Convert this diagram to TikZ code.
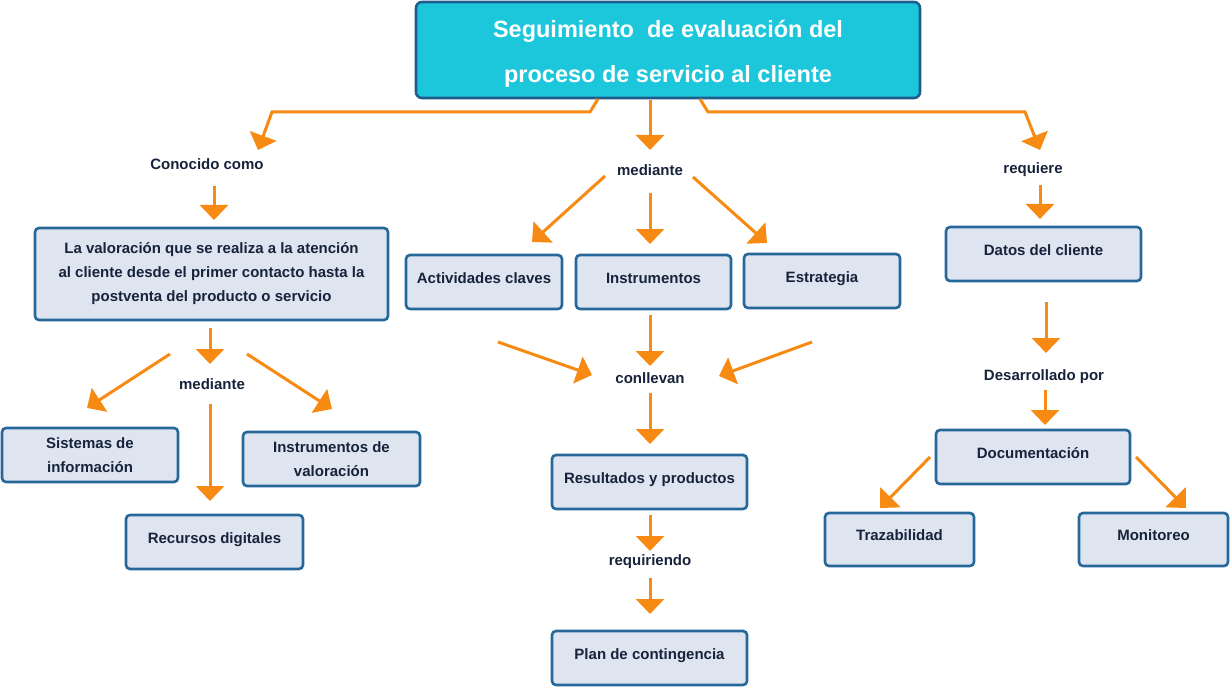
\documentclass[tikz,border=0pt]{standalone}
\usepackage{fontspec}
\setmainfont{Liberation Sans}
\usetikzlibrary{arrows.meta}
\definecolor{arrorange}{HTML}{F68A12}
\definecolor{boxline}{HTML}{26689A}
\definecolor{boxfill}{HTML}{DEE5F1}
\definecolor{titlefill}{HTML}{1DC7DB}
\definecolor{titleline}{HTML}{1F5E8C}
\definecolor{darktext}{HTML}{17233B}
\begin{document}
\begin{tikzpicture}[x=1pt,y=-1pt,
  arr/.style={-{Triangle[width=28pt,length=15pt]},line width=3pt,draw=arrorange},
  box/.style={draw=boxline,fill=boxfill,line width=2.6pt,rounded corners=4pt,text=darktext,font=\fontsize{15}{24}\selectfont\bfseries,align=center,inner sep=0pt},
  one line/.style={text height=11pt,text depth=9pt},
  title box/.style={draw=titleline,fill=titlefill,line width=2.6pt,rounded corners=6pt,text=white,font=\fontsize{23.5}{45}\selectfont\bfseries,align=center,inner sep=0pt,minimum width=504pt,minimum height=96pt},
  word/.style={text=darktext,font=\fontsize{15}{16}\selectfont\bfseries,inner sep=0pt}]
  \useasboundingbox (0,0) rectangle (1231,687);

  % boxes
  \node[title box] (title) at (668,50) {\rule{0pt}{25pt}Seguimiento\ \ de evaluación del\\proceso de servicio al cliente};
  \node[box,minimum width=353pt,minimum height=92pt] (valor) at (211.5,274) {La valoración que se realiza a la atención\\al cliente desde el primer contacto hasta la\\postventa del producto o servicio};
  \node[box,minimum width=176pt,minimum height=54pt] (sist) at (90,455) {Sistemas de\\información};
  \node[box,minimum width=177pt,minimum height=54pt] (instval) at (331.5,459) {Instrumentos de\\valoración};
  \node[box,one line,minimum width=177pt,minimum height=54pt] (recdig) at (214.5,542) {Recursos digitales};
  \node[box,one line,minimum width=156pt,minimum height=54pt] (activ) at (484,282) {Actividades claves};
  \node[box,one line,minimum width=155pt,minimum height=54pt] (instr) at (653.5,282) {Instrumentos};
  \node[box,one line,minimum width=156pt,minimum height=54pt] (estr) at (822,281) {Estrategia};
  \node[box,one line,minimum width=195pt,minimum height=54pt] (result) at (649.5,482) {Resultados y productos};
  \node[box,one line,minimum width=195pt,minimum height=54pt] (plan) at (649.5,658) {Plan de contingencia};
  \node[box,one line,minimum width=195pt,minimum height=54pt] (datos) at (1043.5,254) {Datos del cliente};
  \node[box,one line,minimum width=194pt,minimum height=54pt] (docum) at (1033,457) {Documentación};
  \node[box,one line,minimum width=149pt,minimum height=53pt] (traz) at (899.5,539.5) {Trazabilidad};
  \node[box,one line,minimum width=149pt,minimum height=53pt] (monit) at (1153.5,539.5) {Monitoreo};

  % linking words
  \node[word] (conocido) at (207,164) {Conocido como};
  \node[word] (medtop) at (650,170) {mediante};
  \node[word] (requiere) at (1033,170) {requiere};
  \node[word] (medleft) at (212,384) {mediante};
  \node[word] (conllevan) at (650,378) {conllevan};
  \node[word] (requiriendo) at (650,562) {requiriendo};
  \node[word] (desarr) at (1044,377) {Desarrollado por};

  % free arrow ends
  \coordinate (tL) at (598,99);    \coordinate (conIn) at (258,150);
  \coordinate (tM) at (650,100);   \coordinate (medIn) at (650,150);
  \coordinate (tR) at (700,99);    \coordinate (reqIn) at (1040,150);
  \coordinate (conOut) at (214,186);  \coordinate (valIn) at (214,220);
  \coordinate (valOut) at (210,328);  \coordinate (mlIn) at (210,364);
  \coordinate (mlA) at (170,354);     \coordinate (sistIn) at (87,408);
  \coordinate (mlB) at (247,354);     \coordinate (ivIn) at (332,409);
  \coordinate (mlC) at (210,404);     \coordinate (rdIn) at (210,501);
  \coordinate (mtA) at (605,176);     \coordinate (actIn) at (532,242);
  \coordinate (mtB) at (650,193);     \coordinate (insIn) at (650,244);
  \coordinate (mtC) at (693,177);     \coordinate (estIn) at (767,243);
  \coordinate (actOut) at (498,342);  \coordinate (clA) at (592,375);
  \coordinate (insOut) at (650,315);  \coordinate (clB) at (650,366);
  \coordinate (estOut) at (812,342);  \coordinate (clC) at (719,376);
  \coordinate (clOut) at (650,393);   \coordinate (resIn) at (650,444);
  \coordinate (resOut) at (650,515);  \coordinate (rqIn) at (650,551);
  \coordinate (rqOut) at (650,578);   \coordinate (planIn) at (650,614);
  \coordinate (reqOut) at (1040,185); \coordinate (datIn) at (1040,219);
  \coordinate (datOut) at (1046,302); \coordinate (desIn) at (1046,353);
  \coordinate (desOut) at (1045,390); \coordinate (docIn) at (1045,425);
  \coordinate (docA) at (930,457);    \coordinate (trzIn) at (880,508);
  \coordinate (docB) at (1136,457);   \coordinate (monIn) at (1186,508);

  % arrows
  \draw[arr] (tL) -- (590,112) -- (272,112) -- (conIn);
  \draw[arr] (tR) -- (708,112) -- (1025,112) -- (reqIn);
  \foreach \s/\t in {tM/medIn,conOut/valIn,valOut/mlIn,mlA/sistIn,mlB/ivIn,mlC/rdIn,
      mtA/actIn,mtB/insIn,mtC/estIn,actOut/clA,insOut/clB,estOut/clC,clOut/resIn,
      resOut/rqIn,rqOut/planIn,reqOut/datIn,datOut/desIn,desOut/docIn,docA/trzIn,docB/monIn}
    \draw[arr] (\s) -- (\t);
\end{tikzpicture}
\end{document}
